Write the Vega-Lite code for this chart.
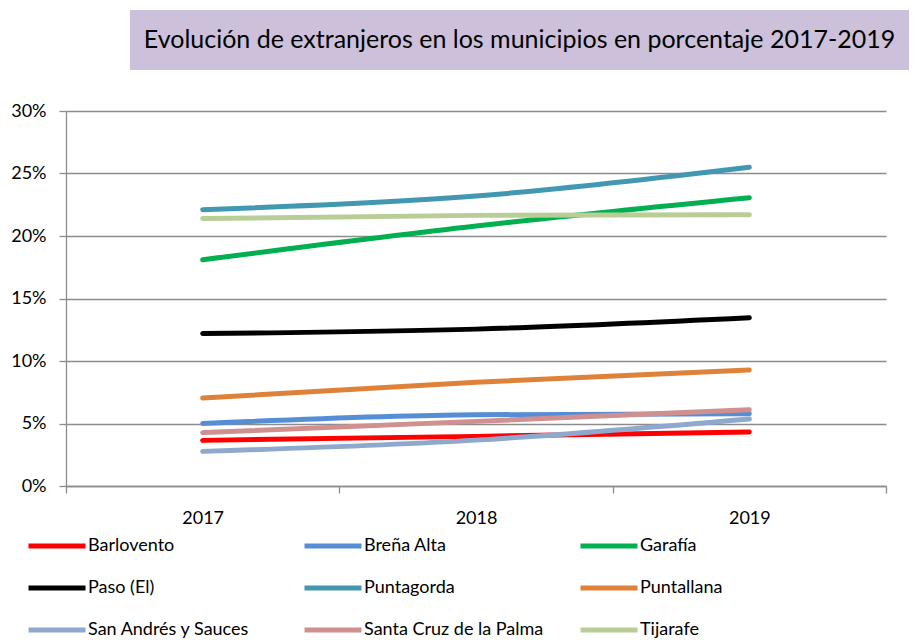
{
  "$schema": "https://vega.github.io/schema/vega-lite/v6.json",
  "background": "white",
  "padding": {"left": 10, "top": 10, "right": 0, "bottom": 0},
  "autosize": {"type": "pad"},
  "config": {
    "view": {"stroke": null},
    "font": "Lato"
  },
  "bounds": "full",
  "spacing": 32,
  "vconcat": [
    {
      "bounds": "flush",
      "spacing": 0,
      "hconcat": [
        {
          "width": 64,
          "height": 60,
          "data": {"values": [{"t": ""}]},
          "mark": {"type": "text"},
          "encoding": {"text": {"field": "t"}}
        },
        {
          "width": 779,
          "height": 60,
          "view": {"fill": "#CCC0DA", "stroke": null},
          "data": {"values": [{"t": "Evolución de extranjeros en los municipios en porcentaje  2017-2019"}]},
          "mark": {"type": "text", "font": "Lato", "fontSize": 25, "color": "#000000"},
          "encoding": {"text": {"field": "t"}}
        }
      ]
    },
    {
      "width": 820,
      "height": 375,
      "data": {
        "values": [
          {"municipio": "Barlovento", "year": "2017", "pct": 0.0365},
          {"municipio": "Barlovento", "year": "2018", "pct": 0.0397},
          {"municipio": "Barlovento", "year": "2019", "pct": 0.0432},
          {"municipio": "Breña Alta", "year": "2017", "pct": 0.0500},
          {"municipio": "Breña Alta", "year": "2018", "pct": 0.0570},
          {"municipio": "Breña Alta", "year": "2019", "pct": 0.0578},
          {"municipio": "Garafía", "year": "2017", "pct": 0.1810},
          {"municipio": "Garafía", "year": "2018", "pct": 0.2080},
          {"municipio": "Garafía", "year": "2019", "pct": 0.2306},
          {"municipio": "Paso (El)", "year": "2017", "pct": 0.1220},
          {"municipio": "Paso (El)", "year": "2018", "pct": 0.1255},
          {"municipio": "Paso (El)", "year": "2019", "pct": 0.1346},
          {"municipio": "Puntagorda", "year": "2017", "pct": 0.2210},
          {"municipio": "Puntagorda", "year": "2018", "pct": 0.2320},
          {"municipio": "Puntagorda", "year": "2019", "pct": 0.2550},
          {"municipio": "Puntallana", "year": "2017", "pct": 0.0704},
          {"municipio": "Puntallana", "year": "2018", "pct": 0.0830},
          {"municipio": "Puntallana", "year": "2019", "pct": 0.0928},
          {"municipio": "San Andrés y Sauces", "year": "2017", "pct": 0.0277},
          {"municipio": "San Andrés y Sauces", "year": "2018", "pct": 0.0367},
          {"municipio": "San Andrés y Sauces", "year": "2019", "pct": 0.0536},
          {"municipio": "Santa Cruz de la Palma", "year": "2017", "pct": 0.0427},
          {"municipio": "Santa Cruz de la Palma", "year": "2018", "pct": 0.0517},
          {"municipio": "Santa Cruz de la Palma", "year": "2019", "pct": 0.0610},
          {"municipio": "Tijarafe", "year": "2017", "pct": 0.2140},
          {"municipio": "Tijarafe", "year": "2018", "pct": 0.2165},
          {"municipio": "Tijarafe", "year": "2019", "pct": 0.2170}
        ]
      },
      "mark": {"type": "line", "strokeWidth": 5, "strokeCap": "round", "interpolate": "monotone"},
      "encoding": {
        "x": {
          "field": "year",
          "type": "ordinal",
          "bandPosition": 0.5,
          "scale": {"type": "band", "paddingInner": 0, "paddingOuter": 0},
          "axis": {
            "title": null,
            "labelAngle": 0,
            "tickBand": "extent",
            "grid": false,
            "domainColor": "#8c8c8c",
            "domainWidth": 1.3,
            "tickColor": "#8c8c8c",
            "tickWidth": 1.3,
            "tickSize": 7,
            "labelFont": "Lato",
            "labelFontSize": 18,
            "labelColor": "#000000",
            "labelPadding": 16
          }
        },
        "y": {
          "field": "pct",
          "type": "quantitative",
          "scale": {"domain": [0, 0.3], "nice": false},
          "axis": {
            "title": null,
            "values": [0, 0.05, 0.1, 0.15, 0.2, 0.25, 0.3],
            "format": ".0%",
            "grid": true,
            "gridColor": "#8c8c8c",
            "gridWidth": 1.3,
            "domainColor": "#8c8c8c",
            "domainWidth": 1.3,
            "tickColor": "#8c8c8c",
            "tickWidth": 1.3,
            "tickSize": 7,
            "labelFont": "Lato",
            "labelFontSize": 18,
            "labelColor": "#000000",
            "labelPadding": 13
          }
        },
        "color": {
          "field": "municipio",
          "type": "nominal",
          "scale": {
            "domain": ["Barlovento", "Breña Alta", "Garafía", "Paso (El)", "Puntagorda", "Puntallana", "San Andrés y Sauces", "Santa Cruz de la Palma", "Tijarafe"],
            "range": ["#FF0000", "#558ED5", "#00B050", "#000000", "#4298B0", "#DF8239", "#8FA8CE", "#D09090", "#B9CD96"]
          },
          "legend": {
            "title": null,
            "orient": "none",
            "legendX": -40,
            "legendY": 505,
            "direction": "horizontal",
            "columns": 3,
            "gridAlign": "all",
            "columnPadding": 26,
            "rowPadding": 1,
            "symbolType": "stroke",
            "symbolSize": 3249,
            "symbolStrokeWidth": 5,
            "labelFont": "Lato",
            "labelFontSize": 18,
            "labelColor": "#000000",
            "labelOffset": 0,
            "labelLimit": 400,
            "padding": 0
          }
        }
      }
    }
  ]
}
